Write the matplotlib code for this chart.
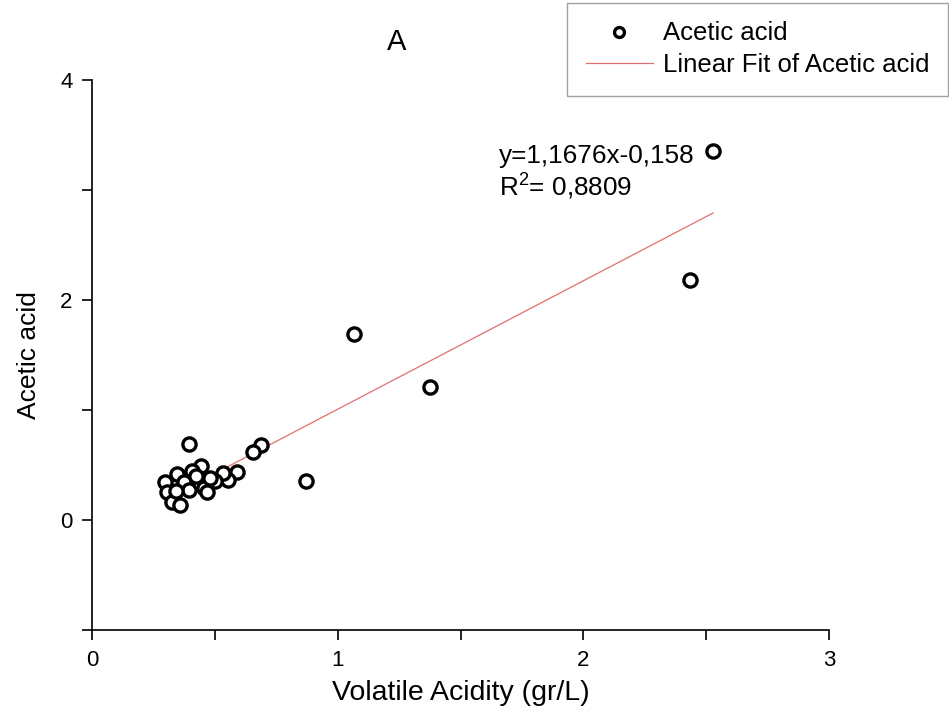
import numpy as np
import matplotlib
matplotlib.use("Agg")
import matplotlib.pyplot as plt
from matplotlib.ticker import MultipleLocator

plt.rcParams["font.family"] = ["Liberation Sans", "DejaVu Sans"]
plt.rcParams["mathtext.fontset"] = "custom"
plt.rcParams["mathtext.rm"] = "Liberation Sans"
plt.rcParams["mathtext.default"] = "regular"

# data
volatile_acidity = [
    0.395, 0.688, 0.655, 0.871, 0.590, 0.554, 0.533, 0.501, 0.444, 0.407,
    0.346, 0.297, 0.305, 0.326, 0.358, 0.375, 0.395, 0.440, 0.456, 0.468,
    0.342, 0.423, 0.480, 1.066, 1.376, 2.435, 2.528,
]
acetic_acid = [
    0.692, 0.683, 0.620, 0.355, 0.437, 0.364, 0.428, 0.355, 0.492, 0.446,
    0.419, 0.346, 0.255, 0.164, 0.137, 0.346, 0.273, 0.337, 0.291, 0.255,
    0.264, 0.401, 0.380, 1.695, 1.212, 2.187, 3.353,
]
slope = 1.1676
intercept = -0.158
r2_text = "0,8809"

fig = plt.figure(figsize=(9.49, 7.17), dpi=100)
ax = fig.add_axes([0.097, 0.121, 0.7766, 0.767])

x = np.array(volatile_acidity)
y = np.array(acetic_acid)

ax.plot(x, y, linestyle="none", marker="o", markersize=9.5,
        markerfacecolor="white", markeredgecolor="black",
        markeredgewidth=2.4, label="Acetic acid", zorder=3)
fit_x = np.array([x.min(), x.max()])
ax.plot(fit_x, slope * fit_x + intercept, color="#e07070", lw=0.9,
        label="Linear Fit of Acetic acid", zorder=2)

ax.set_xlim(0, 3)
ax.set_ylim(-1, 4)
ax.xaxis.set_major_locator(MultipleLocator(1))
ax.xaxis.set_minor_locator(MultipleLocator(0.5))
ax.yaxis.set_major_locator(MultipleLocator(2))
ax.yaxis.set_minor_locator(MultipleLocator(1))
ax.tick_params(which="both", direction="out", length=7, width=1.2,
               labelsize=16, pad=7)
ax.spines["top"].set_visible(False)
ax.spines["right"].set_visible(False)
for s in ["left", "bottom"]:
    ax.spines[s].set_linewidth(1.2)

ax.set_xlabel("Volatile Acidity (gr/L)", fontsize=20.5, labelpad=7)
ax.set_ylabel("Acetic acid", fontsize=19, labelpad=14)
fig.text(397 / 949, 1 - 42 / 717, "A", fontsize=21, ha="center", va="center")

ax.text(1.655, 3.31, f"y={slope:.4f}x{intercept:.3f}".replace(".", ","),
        fontsize=18.8, va="center")
ax.text(1.655, 3.03, "R$^2$= " + r2_text, fontsize=18.8, va="center")

leg = fig.legend(loc="upper right", bbox_to_anchor=(948 / 949, 1 - 3 / 717),
                 fontsize=18.5, frameon=True, fancybox=False,
                 handlelength=2.6, handletextpad=0.4, borderpad=0.72,
                 labelspacing=0.3, borderaxespad=0, markerscale=0.75)
leg.get_frame().set_edgecolor("#888888")
leg.get_frame().set_linewidth(1.0)

fig.savefig("out.png", dpi=100)
